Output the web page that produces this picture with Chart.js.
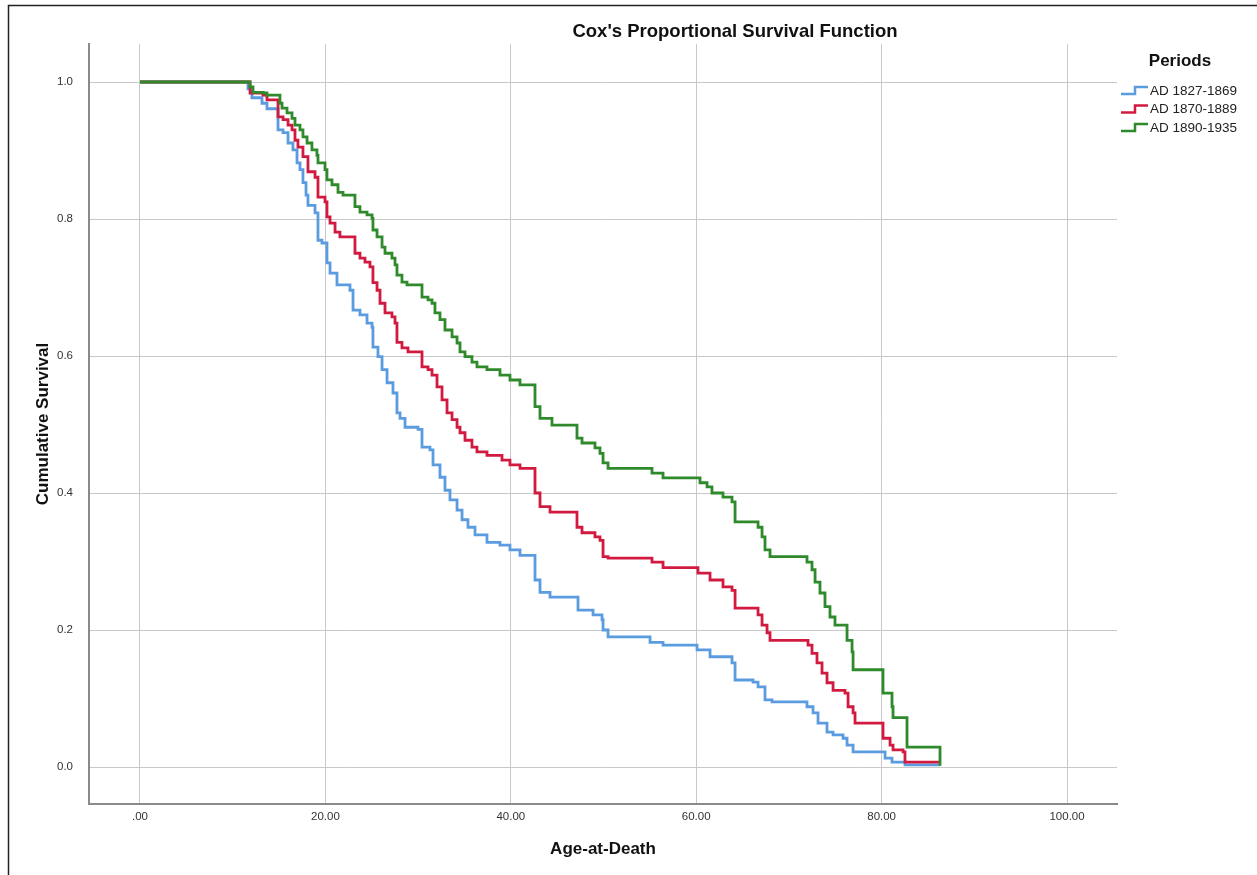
<!DOCTYPE html>
<html>
<head>
<meta charset="utf-8">
<script src="https://cdn.jsdelivr.net/npm/chart.js@4.4.1/dist/chart.umd.min.js"></script>
<style>
  html, body { margin: 0; padding: 0; background: #fff; }
  #wrap { width: 1257px; height: 875px; }
</style>
</head>
<body>
<div id="wrap"><canvas id="survChart" width="1257" height="875"></canvas></div>
<script>
// DONNEES
const periods = ['AD 1827-1869', 'AD 1870-1889', 'AD 1890-1935'];
const periodColors = ['#5b9be0', '#d21a40', '#2e8a2a'];

const xTicks = [0, 20, 40, 60, 80, 100];
const xTickLabels = ['.00', '20.00', '40.00', '60.00', '80.00', '100.00'];
const yTicks = [0, 0.2, 0.4, 0.6, 0.8, 1.0];
const yTickLabels = ['0.0', '0.2', '0.4', '0.6', '0.8', '1.0'];

// AD 1827-1869
const age1 = [0, 11.65, 12.08, 13.16, 13.70, 14.89, 15.43, 15.97, 16.50, 16.94, 17.26, 17.58, 17.91, 18.12, 18.88,
  19.20, 19.63, 20.17, 20.50, 21.25, 22.65, 22.98, 23.73, 24.49, 25.03, 25.13, 25.67, 26.11, 26.65, 27.29, 27.72,
  28.05, 28.59, 29.99, 30.42, 31.28, 31.61, 32.36, 32.90, 33.44, 34.20, 34.74, 35.38, 36.14, 37.43, 38.83, 39.91,
  40.99, 42.61, 43.15, 44.23, 47.25, 48.87, 49.84, 49.95, 50.49, 55.02, 56.42, 60.09, 61.49, 63.86, 64.19, 66.13,
  66.67, 67.42, 68.18, 71.95, 72.60, 73.14, 74.11, 74.76, 75.84, 76.27, 76.92, 80.37, 81.12, 82.52, 86.30];
const surv1 = [1, 0.990, 0.977, 0.969, 0.961, 0.930, 0.926, 0.911, 0.901, 0.882, 0.872, 0.853, 0.835, 0.820, 0.809,
  0.769, 0.765, 0.736, 0.721, 0.704, 0.696, 0.667, 0.660, 0.648, 0.642, 0.613, 0.599, 0.580, 0.561, 0.546, 0.517,
  0.509, 0.496, 0.493, 0.467, 0.463, 0.441, 0.423, 0.404, 0.390, 0.375, 0.361, 0.350, 0.339, 0.328, 0.324, 0.317,
  0.309, 0.273, 0.255, 0.248, 0.229, 0.222, 0.215, 0.200, 0.190, 0.182, 0.178, 0.171, 0.161, 0.152, 0.127, 0.124,
  0.117, 0.098, 0.095, 0.088, 0.079, 0.064, 0.051, 0.047, 0.042, 0.032, 0.022, 0.013, 0.007, 0.003, 0.003];

// AD 1870-1889
const age2 = [0, 11.87, 13.27, 13.70, 14.89, 15.43, 15.97, 16.40, 16.72, 17.04, 17.58, 18.12, 18.88, 19.20, 19.96,
  20.17, 20.50, 21.04, 21.57, 23.19, 23.73, 24.27, 24.81, 25.13, 25.57, 25.89, 26.43, 27.18, 27.51, 27.72, 28.26,
  28.91, 30.42, 31.07, 31.50, 32.04, 32.58, 33.12, 33.66, 34.20, 34.52, 35.06, 35.81, 36.35, 37.43, 39.05, 39.91,
  40.99, 42.61, 43.15, 44.23, 47.14, 47.68, 49.08, 49.62, 49.95, 50.49, 55.23, 56.42, 60.19, 61.49, 62.89, 63.86,
  64.19, 66.67, 67.10, 67.64, 67.96, 72.06, 72.49, 73.03, 73.57, 74.11, 74.76, 76.05, 76.38, 76.92, 77.13, 80.15,
  80.91, 81.23, 82.31, 82.52, 86.30];
const surv2 = [1, 0.984, 0.981, 0.974, 0.949, 0.945, 0.937, 0.930, 0.915, 0.905, 0.891, 0.869, 0.861, 0.832, 0.825,
  0.803, 0.794, 0.781, 0.774, 0.750, 0.743, 0.737, 0.730, 0.707, 0.696, 0.677, 0.663, 0.657, 0.648, 0.620, 0.612,
  0.606, 0.584, 0.580, 0.572, 0.555, 0.536, 0.517, 0.507, 0.496, 0.488, 0.477, 0.467, 0.460, 0.455, 0.448, 0.441,
  0.436, 0.400, 0.380, 0.372, 0.350, 0.342, 0.336, 0.331, 0.307, 0.305, 0.299, 0.291, 0.283, 0.273, 0.263, 0.258,
  0.232, 0.222, 0.207, 0.196, 0.185, 0.178, 0.166, 0.152, 0.137, 0.123, 0.112, 0.108, 0.088, 0.079, 0.064, 0.042,
  0.032, 0.025, 0.022, 0.007, 0.007];

// AD 1890-1935
const age3 = [0, 11.87, 12.19, 13.27, 13.70, 15.10, 15.32, 15.86, 16.40, 16.72, 17.26, 17.58, 18.02, 18.55, 19.09,
  19.20, 19.96, 20.17, 20.71, 21.36, 21.90, 23.19, 23.73, 24.49, 25.03, 25.13, 25.57, 26.11, 26.43, 27.18, 27.51,
  27.72, 28.26, 28.80, 30.42, 31.07, 31.50, 31.82, 32.36, 32.90, 33.66, 34.20, 34.52, 35.06, 35.81, 36.35, 37.43,
  38.83, 39.91, 40.99, 42.61, 43.15, 44.44, 47.14, 47.68, 49.08, 49.62, 49.95, 50.49, 55.23, 56.42, 60.41, 61.17,
  61.70, 62.89, 63.86, 64.19, 66.67, 67.10, 67.42, 67.96, 71.95, 72.49, 72.82, 73.35, 73.89, 74.43, 74.97, 76.27,
  76.81, 76.92, 80.15, 81.12, 81.23, 82.74, 86.30, 86.30];
const surv3 = [1, 0.993, 0.985, 0.984, 0.981, 0.969, 0.962, 0.955, 0.947, 0.937, 0.930, 0.920, 0.911, 0.901, 0.893,
  0.882, 0.872, 0.857, 0.850, 0.839, 0.835, 0.818, 0.810, 0.806, 0.801, 0.784, 0.774, 0.759, 0.750, 0.743, 0.733,
  0.718, 0.708, 0.704, 0.686, 0.682, 0.677, 0.663, 0.653, 0.638, 0.628, 0.619, 0.606, 0.599, 0.591, 0.584, 0.580,
  0.572, 0.565, 0.558, 0.526, 0.509, 0.499, 0.480, 0.473, 0.466, 0.458, 0.444, 0.436, 0.429, 0.422, 0.415, 0.409,
  0.400, 0.394, 0.387, 0.358, 0.350, 0.336, 0.317, 0.307, 0.299, 0.288, 0.270, 0.254, 0.234, 0.219, 0.207, 0.185,
  0.168, 0.142, 0.108, 0.088, 0.072, 0.029, 0.029, 0.002];

const ages = [age1, age2, age3];
const survs = [surv1, surv2, surv3];

const FONT = '"Liberation Sans", Arial, sans-serif';

// TITRE, CADRE ET LEGENDE
const decorPlugin = {
  id: 'decor',
  beforeDraw(chart) {
    const ctx = chart.ctx;
    ctx.save();
    ctx.fillStyle = '#fff';
    ctx.fillRect(0, 0, chart.width, chart.height);
    ctx.strokeStyle = '#222';
    ctx.lineWidth = 1.5;
    ctx.beginPath();
    ctx.moveTo(8.5, chart.height);
    ctx.lineTo(8.5, 5.5);
    ctx.lineTo(chart.width, 5.5);
    ctx.stroke();
    ctx.restore();
  },
  afterDraw(chart) {
    const ctx = chart.ctx;
    ctx.save();
    ctx.fillStyle = '#111';
    ctx.textBaseline = 'middle';
    ctx.textAlign = 'center';
    ctx.font = 'bold 18.5px ' + FONT;
    ctx.fillText("Cox's Proportional Survival Function", 735, 32);

    ctx.font = 'bold 17px ' + FONT;
    ctx.fillText('Periods', 1180, 61);

    ctx.textAlign = 'left';
    ctx.font = '13.5px ' + FONT;
    chart.data.datasets.forEach((ds, i) => {
      const y = 91 + i * 18.5;
      ctx.strokeStyle = ds.borderColor;
      ctx.lineWidth = 2.5;
      ctx.beginPath();
      ctx.moveTo(1121, y + 3);
      ctx.lineTo(1135, y + 3);
      ctx.lineTo(1135, y - 4);
      ctx.lineTo(1148, y - 4);
      ctx.stroke();
      ctx.fillStyle = '#222';
      ctx.fillText(ds.label, 1150, y);
    });
    ctx.restore();
  }
};

const ctx = document.getElementById('survChart').getContext('2d');
new Chart(ctx, {
  type: 'line',
  data: {
    datasets: periods.map((p, i) => ({
      label: p,
      data: ages[i].map((a, j) => ({ x: a, y: survs[i][j] })),
      borderColor: periodColors[i],
      borderWidth: 2.8,
      stepped: true, // courbe en escalier
      pointRadius: 0,
      fill: false,
      order: 3 - i // la derniere periode dessinee au-dessus
    }))
  },
  options: {
    responsive: false,
    animation: false,
    devicePixelRatio: 1,
    layout: { padding: { left: 0, right: 140, top: 44, bottom: 0 } },
    plugins: {
      legend: { display: false },
      title: { display: false },
      tooltip: { enabled: false }
    },
    scales: {
      x: {
        type: 'linear',
        min: -5.5,
        max: 105.39,
        afterFit(scale) { scale.height = 71; },
        afterBuildTicks(scale) { scale.ticks = xTicks.map(v => ({ value: v })); },
        ticks: {
          padding: 6,
          color: '#333',
          font: { family: FONT, size: 11.5 },
          callback: (v) => xTickLabels[xTicks.indexOf(v)]
        },
        grid: { color: '#c8c8c8', lineWidth: 1, drawTicks: false },
        border: { display: true, color: '#8a8a8a', width: 2 },
        title: {
          display: true,
          text: 'Age-at-Death',
          color: '#111',
          font: { family: FONT, size: 17, weight: 'bold' },
          padding: { top: 0, bottom: 15 }
        }
      },
      y: {
        type: 'linear',
        min: -0.054,
        max: 1.0555,
        afterFit(scale) { scale.width = 89; },
        afterBuildTicks(scale) { scale.ticks = yTicks.map(v => ({ value: v })); },
        ticks: {
          padding: 16,
          color: '#333',
          font: { family: FONT, size: 11.5 },
          callback: (v) => yTickLabels[yTicks.findIndex(t => Math.abs(t - v) < 1e-6)]
        },
        grid: { color: '#c8c8c8', lineWidth: 1, drawTicks: false },
        border: { display: true, color: '#8a8a8a', width: 2 },
        title: {
          display: true,
          text: 'Cumulative Survival',
          color: '#111',
          font: { family: FONT, size: 17, weight: 'bold' },
          padding: { top: 33, bottom: 0 }
        }
      }
    }
  },
  plugins: [decorPlugin]
});
</script>
</body>
</html>
